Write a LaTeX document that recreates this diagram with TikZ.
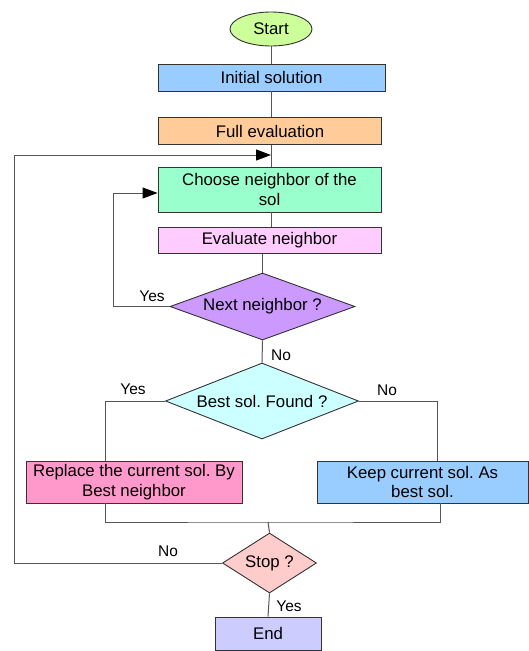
\documentclass[tikz,border=0pt]{standalone}
\usepackage{fontspec}
\setmainfont{Liberation Sans}
\frenchspacing
\usetikzlibrary{arrows.meta,shapes.geometric}
\definecolor{cstart}{HTML}{CCFF99}
\definecolor{cinit}{HTML}{99CCFF}
\definecolor{cfull}{HTML}{FFCC99}
\definecolor{cchoose}{HTML}{99FFCC}
\definecolor{ceval}{HTML}{FFCCFF}
\definecolor{cnext}{HTML}{CC99FF}
\definecolor{cbest}{HTML}{CCFFFF}
\definecolor{crepl}{HTML}{FF99CC}
\definecolor{ckeep}{HTML}{99CCFF}
\definecolor{cstop}{HTML}{FFCCCC}
\definecolor{cend}{HTML}{CCCCFF}
\definecolor{edge}{HTML}{333333}
\definecolor{wire}{HTML}{555555}
\begin{document}
\begin{tikzpicture}[x=1pt,y=-1pt,
  every node/.style={font=\fontsize{16.8}{19.5}\selectfont\frenchspacing, inner sep=0pt, text=black},
  box/.style={draw=edge, line width=0.9pt, rectangle, align=center},
  dia/.style={draw=edge, line width=0.9pt, diamond, align=center},
  wire/.style={draw=wire, line width=1pt},
  arr/.style={wire, -{Triangle[length=15pt,width=11pt,color=black]}},
  lab/.style={font=\fontsize{15.5}{18}\selectfont}]
\useasboundingbox (0,0) rectangle (529,651);
\node[draw=edge, line width=0.9pt, ellipse, fill=cstart, minimum width=82pt, minimum height=34pt] (start) at (271,29) {Start};
\node[box, fill=cinit, minimum width=227pt, minimum height=27pt] (init) at (271.5,77.5) {Initial solution};
\node[box, fill=cfull, minimum width=223pt, minimum height=27pt] (full) at (270,131) {Full evaluation};
\node[box, fill=cchoose, minimum width=223pt, minimum height=45pt] (choose) at (269.5,189.5) {Choose neighbor of the\\sol};
\node[box, fill=ceval, minimum width=223pt, minimum height=26pt] (eval) at (269.5,240.5) {Evaluate neighbor};
\node[dia, shape aspect=2.76, fill=cnext, minimum width=185pt, minimum height=67pt] (next) at (262.5,306.5) {Next neighbor ?};
\node[dia, shape aspect=2.54, fill=cbest, minimum width=193pt, minimum height=76pt] (best) at (262,401) {Best sol. Found ?};
\node[box, fill=crepl, minimum width=216pt, minimum height=42pt] (repl) at (134,482) {Replace the current sol. By\\Best neighbor};
\node[box, fill=ckeep, minimum width=211pt, minimum height=42pt] (keep) at (422.5,482) {Keep current sol. As\\best sol.};
\node[dia, shape aspect=1.57, fill=cstop, minimum width=94pt, minimum height=60pt] (stop) at (269.5,563) {Stop ?};
\node[box, fill=cend, minimum width=106pt, minimum height=33pt] (endn) at (268,633.5) {End};

\coordinate (jn1) at (271,155);
\coordinate (outer) at (14,155);
\coordinate (yl) at (113,193);
\coordinate (mg) at (268,522);
\coordinate (rl) at (105,482);
\coordinate (kr) at (437,482);
\coordinate (kb) at (440,482);

\draw[wire] (start.south) -- (start.south |- init.north);
\draw[wire] (start.south |- init.south) -- (start.south |- full.north);
\draw[wire] (jn1 |- full.south) -- (jn1 |- choose.north);
\draw[wire] (jn1 |- choose.south) -- (jn1 |- eval.north);
\draw[wire] (next.north |- eval.south) -- (next.north);
\draw[arr] (stop.west) -| (outer) -- (jn1);
\draw[arr] (next.west) -| (yl) -- (yl -| choose.west);
\draw[wire] (next.south) -- (best.north);
\draw[wire] (best.west) -| (rl |- repl.north);
\draw[wire] (best.east) -| (kr |- keep.north);
\draw[wire] (rl |- repl.south) |- (mg) -| (kb |- keep.south);
\draw[wire] (mg) -- (stop.north);
\draw[wire] (stop.south) -- (endn.north);

\node[lab] (l1) at (152,296) {Yes};
\node[lab] (l2) at (281,355) {No};
\node[lab] (l3) at (133,389) {Yes};
\node[lab] (l4) at (387,390) {No};
\node[lab] (l5) at (168,551) {No};
\node[lab] (l6) at (289,606) {Yes};
\end{tikzpicture}
\end{document}
